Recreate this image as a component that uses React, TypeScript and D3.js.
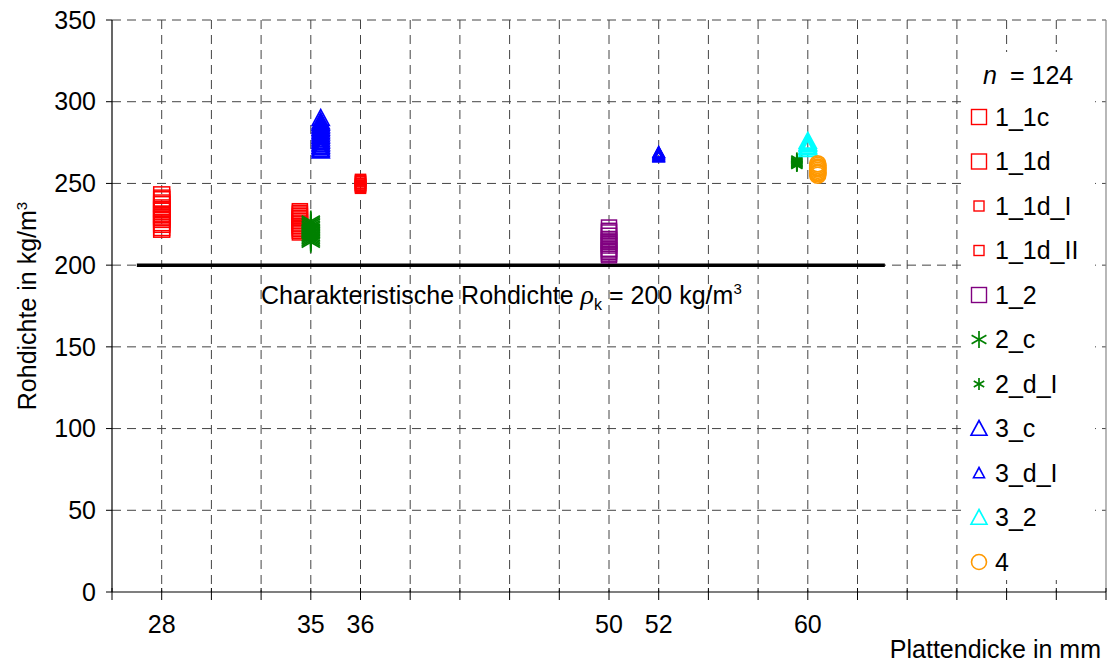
import React from 'react';
import * as d3 from 'd3';

// x axis is a category-like index axis: gridlines at every integer, labels only on some
const xTicks = [
  { pos: 1, label: '28' },
  { pos: 4, label: '35' },
  { pos: 5, label: '36' },
  { pos: 10, label: '50' },
  { pos: 11, label: '52' },
  { pos: 14, label: '60' },
];
const yTicks = [0, 50, 100, 150, 200, 250, 300, 350];

// slight x offsets within a thickness class, as in the original plot
const s1_1c = [222, 223, 225, 226, 228, 229, 230, 231, 233, 234, 235, 237, 238, 240, 241, 243];
const s1_1d = [220, 221, 222, 223, 224, 225, 226, 227, 228, 229, 230, 231, 232, 233];
const s1_1d_I = [247, 248, 249, 250, 251, 252];
const s1_1d_II = [247.5, 248.5, 249, 250, 251.5, 252.5];
const s1_2 = [206, 207, 208, 209, 210, 212, 213, 214, 215, 216, 218, 220, 221, 223];
const s2_c = [214, 215, 216, 217, 218, 219, 220, 221, 222, 223, 224, 225, 226, 227];
const s2_d_I = [261, 261.5, 262, 262.5, 263, 263.5, 264, 265];
const s3_c = [270, 271, 272, 273, 274, 275, 276, 277, 278, 279, 280, 281, 282, 283, 284, 285, 286, 287, 288, 290];
const s3_d_I = [266, 266.5, 267, 267.5, 268, 268.5, 269, 269];
const s3_2 = [271, 272, 272.5, 273, 274, 274.5, 275, 276];
const s4 = [255, 256, 256.5, 257, 258, 259, 259.5, 260, 261, 262];

const series = [
  { name: '1_1c', x: 1, values: s1_1c, shape: 'square', size: 16, color: '#ff0000' },
  { name: '1_1d', x: 3.78, values: s1_1d, shape: 'square', size: 15, color: '#ff0000' },
  { name: '1_1d_I', x: 5, values: s1_1d_I, shape: 'square', size: 10, color: '#ff0000' },
  { name: '1_1d_II', x: 5, values: s1_1d_II, shape: 'square', size: 10, color: '#ff0000' },
  { name: '1_2', x: 10, values: s1_2, shape: 'square', size: 15, color: '#800080' },
  { name: '2_c', x: 4, values: s2_c, shape: 'star', size: 21, color: '#008000' },
  { name: '2_d_I', x: 13.78, values: s2_d_I, shape: 'star', size: 13, color: '#008000' },
  { name: '3_c', x: 4.2, values: s3_c, shape: 'triangle', size: 17, color: '#0000ff' },
  { name: '3_d_I', x: 11, values: s3_d_I, shape: 'triangle', size: 11, color: '#0000ff' },
  { name: '3_2', x: 14, values: s3_2, shape: 'triangle', size: 17, color: '#00ffff' },
  { name: '4', x: 14.2, values: s4, shape: 'circle', size: 16, color: '#ff9900' },
];

const threshold = 200;
const thresholdRange = [0.5, 15.55];

const font = 'Arial, "Liberation Sans", sans-serif';
const fs = 25;

const Marker = ({ shape, size, color, cx, cy, sw = 1.5 }) => {
  const h = size / 2;
  if (shape === 'square') {
    return <rect x={cx - h} y={cy - h} width={size} height={size} fill="none" stroke={color} strokeWidth={sw} />;
  }
  if (shape === 'circle') {
    return <circle cx={cx} cy={cy} r={h} fill="none" stroke={color} strokeWidth={sw + 0.2} />;
  }
  if (shape === 'triangle') {
    const p = `${cx},${cy - h} ${cx + h},${cy + h * 0.85} ${cx - h},${cy + h * 0.85}`;
    return <polygon points={p} fill="none" stroke={color} strokeWidth={sw + 0.2} />;
  }
  // asterisk: vertical line plus two diagonals
  const d = h * 0.87;
  return (
    <g stroke={color} strokeWidth={sw + 0.3}>
      <line x1={cx} y1={cy - h} x2={cx} y2={cy + h} />
      <line x1={cx - d} y1={cy - h / 2} x2={cx + d} y2={cy + h / 2} />
      <line x1={cx - d} y1={cy + h / 2} x2={cx + d} y2={cy - h / 2} />
    </g>
  );
};

export default function App() {
  const width = 1109;
  const height = 665;
  const left = 112, right = 1106, top = 20, bottom = 592;

  const x = d3.scaleLinear().domain([0, 20]).range([left, right]);
  const y = d3.scaleLinear().domain([0, 350]).range([bottom, top]);
  const gridX = d3.range(1, 20);

  const legendX = 979;
  const legendY0 = 117;
  const legendStep = 44.5;

  const legendSize = s => {
    if (s.shape === 'star') return s.size > 15 ? 17 : 12;
    if (s.shape === 'triangle') return s.size > 15 ? 16 : 11;
    return s.size >= 15 ? 15 : 10;
  };

  return (
    <div style={{ position: 'absolute', left: 0, top: 0 }}>
      <svg width={width} height={height} style={{ display: 'block', fontFamily: font }}>
        <rect width={width} height={height} fill="#fff" />

        {/* grid */}
        <g stroke="#444" strokeWidth={1} strokeDasharray="9,6">
          {yTicks.filter(t => t > 0).map(t => (
            <line key={t} x1={left} x2={right} y1={y(t)} y2={y(t)} />
          ))}
          {gridX.map(i => (
            <line key={i} x1={x(i)} x2={x(i)} y1={top} y2={bottom} />
          ))}
        </g>
        <line x1={right} x2={right} y1={top} y2={bottom} stroke="#888" strokeWidth={1.2} />

        {/* axes */}
        <line x1={left} x2={left} y1={top} y2={bottom} stroke="#000" strokeWidth={1.2} />
        <line x1={left} x2={right} y1={bottom} y2={bottom} stroke="#000" strokeWidth={1.2} />
        {yTicks.map(t => (
          <g key={t}>
            <line x1={left - 6} x2={left} y1={y(t)} y2={y(t)} stroke="#000" />
            <text x={96} y={y(t)} dy="0.35em" textAnchor="end" fontSize={fs}>{t}</text>
          </g>
        ))}
        {d3.range(0, 21).map(i => (
          <line key={i} x1={x(i)} x2={x(i)} y1={bottom - 4} y2={bottom + 8} stroke="#000" />
        ))}
        {xTicks.map(t => (
          <text key={t.label} x={x(t.pos)} y={633} textAnchor="middle" fontSize={fs}>{t.label}</text>
        ))}
        <text x={1101} y={658} textAnchor="end" fontSize={fs}>Plattendicke in mm</text>
        <text transform={`translate(36,${(top + bottom) / 2}) rotate(-90)`} textAnchor="middle" fontSize={fs}>
          Rohdichte in kg/m<tspan dy="-9" fontSize={15}>3</tspan>
        </text>

        {/* characteristic density */}
        <line x1={x(thresholdRange[0])} x2={x(thresholdRange[1])} y1={y(threshold)} y2={y(threshold)} stroke="#000" strokeWidth={3.5} />
        <text x={261} y={304} fontSize={fs}>
          Charakteristische Rohdichte <tspan fontStyle="italic" fontFamily="'Times New Roman', 'Liberation Serif', serif" fontSize={28}>ρ</tspan>
          <tspan dy="6" fontSize={16}>k</tspan>
          <tspan dy="-6"> = {threshold} kg/m</tspan>
          <tspan dy="-10" fontSize={15}>3</tspan>
        </text>

        {/* points */}
        {series.map(s => (
          <g key={s.name}>
            {s.values.map((v, i) => (
              <Marker key={i} shape={s.shape} size={s.size} color={s.color} cx={x(s.x)} cy={y(v)} />
            ))}
          </g>
        ))}

        {/* legend */}
        <rect x={963} y={52} width={132} height={528} fill="#fff" />
        <text x={983} y={84} fontSize={fs}>
          <tspan fontStyle="italic">n</tspan>
          <tspan x={1010}>= 124</tspan>
        </text>
        {series.map((s, i) => {
          const cy = legendY0 + i * legendStep;
          return (
            <g key={s.name}>
              <Marker shape={s.shape} size={legendSize(s)} color={s.color} cx={legendX} cy={cy} sw={1.4} />
              <text x={995} y={cy} dy="0.35em" fontSize={fs}>{s.name}</text>
            </g>
          );
        })}
      </svg>
    </div>
  );
}
